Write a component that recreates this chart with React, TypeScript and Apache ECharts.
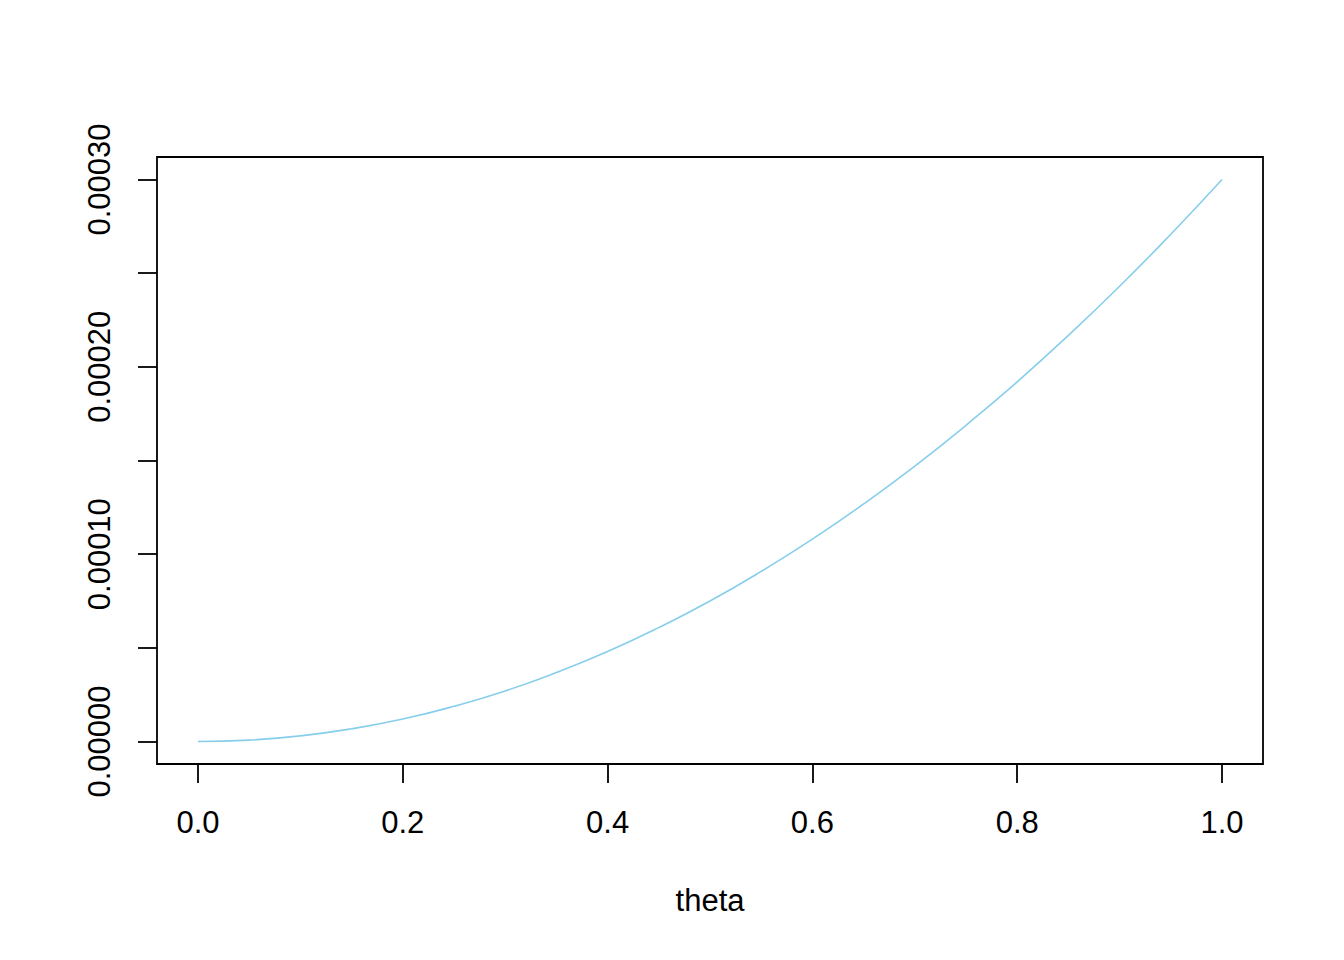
import React, { useEffect, useRef } from "react";
import * as echarts from "echarts";

const theta = [0, 0.05, 0.1, 0.15, 0.2, 0.25, 0.3, 0.35, 0.4, 0.45, 0.5, 0.55, 0.6, 0.65, 0.7, 0.75, 0.8, 0.85, 0.9, 0.95, 1.0];
const density = [
  0, 0.00000075, 0.000003, 0.0000068, 0.000012, 0.0000188, 0.000027, 0.0000368, 0.000048, 0.0000608,
  0.000075, 0.0000908, 0.000108, 0.0001268, 0.000147, 0.0001688, 0.000192, 0.0002168, 0.000243, 0.0002708, 0.0003,
];
const xTicks = [0, 0.2, 0.4, 0.6, 0.8, 1.0];
const yTicks = [0, 0.00005, 0.0001, 0.00015, 0.0002, 0.00025, 0.0003];
const yLabels = [0, 0.0001, 0.0002, 0.0003];
const xName = "theta";

export default function App() {
  const ref = useRef<HTMLDivElement>(null);
  useEffect(() => {
    if (!ref.current) return;
    const chart = echarts.init(ref.current, null, { renderer: "svg" });
    const font = "'Liberation Sans', Arial, sans-serif";
    chart.setOption({
      animation: false,
      backgroundColor: "#ffffff",
      grid: {
        left: 157,
        top: 157,
        width: 1106,
        height: 607,
        show: true,
        borderColor: "#000000",
        borderWidth: 1.8,
        containLabel: false,
      },
      xAxis: {
        type: "value",
        min: -0.04,
        max: 1.04,
        splitLine: { show: false },
        axisLine: { show: false, onZero: false },
        axisTick: {
          show: true,
          length: 19,
          inside: false,
          customValues: xTicks,
          lineStyle: { color: "#000", width: 1.8 },
        },
        axisLabel: {
          show: true,
          customValues: xTicks,
          margin: 43,
          fontFamily: font,
          fontSize: 31,
          color: "#000",
          formatter: (v: number) => v.toFixed(1),
        },
        name: xName,
        nameLocation: "middle",
        nameGap: 121,
        nameTextStyle: { fontFamily: font, fontSize: 31, color: "#000" },
      },
      yAxis: {
        type: "value",
        min: -0.000012,
        max: 0.000312,
        splitLine: { show: false },
        axisLine: { show: false, onZero: false },
        axisTick: {
          show: true,
          length: 19,
          inside: false,
          customValues: yTicks,
          lineStyle: { color: "#000", width: 1.8 },
        },
        axisLabel: {
          show: true,
          customValues: yLabels,
          rotate: 90,
          margin: 42,
          fontFamily: font,
          fontSize: 31,
          color: "#000",
          formatter: (v: number) => v.toFixed(5),
        },
      },
      series: [
        {
          type: "line",
          data: theta.map((t, i) => [t, density[i]]),
          smooth: true,
          showSymbol: false,
          lineStyle: { color: "#87CEEB", width: 1.6 },
        },
      ],
    });
    return () => chart.dispose();
  }, []);
  return <div ref={ref} style={{ position: "absolute", left: 0, top: 0, width: 1344, height: 960 }} />;
}
